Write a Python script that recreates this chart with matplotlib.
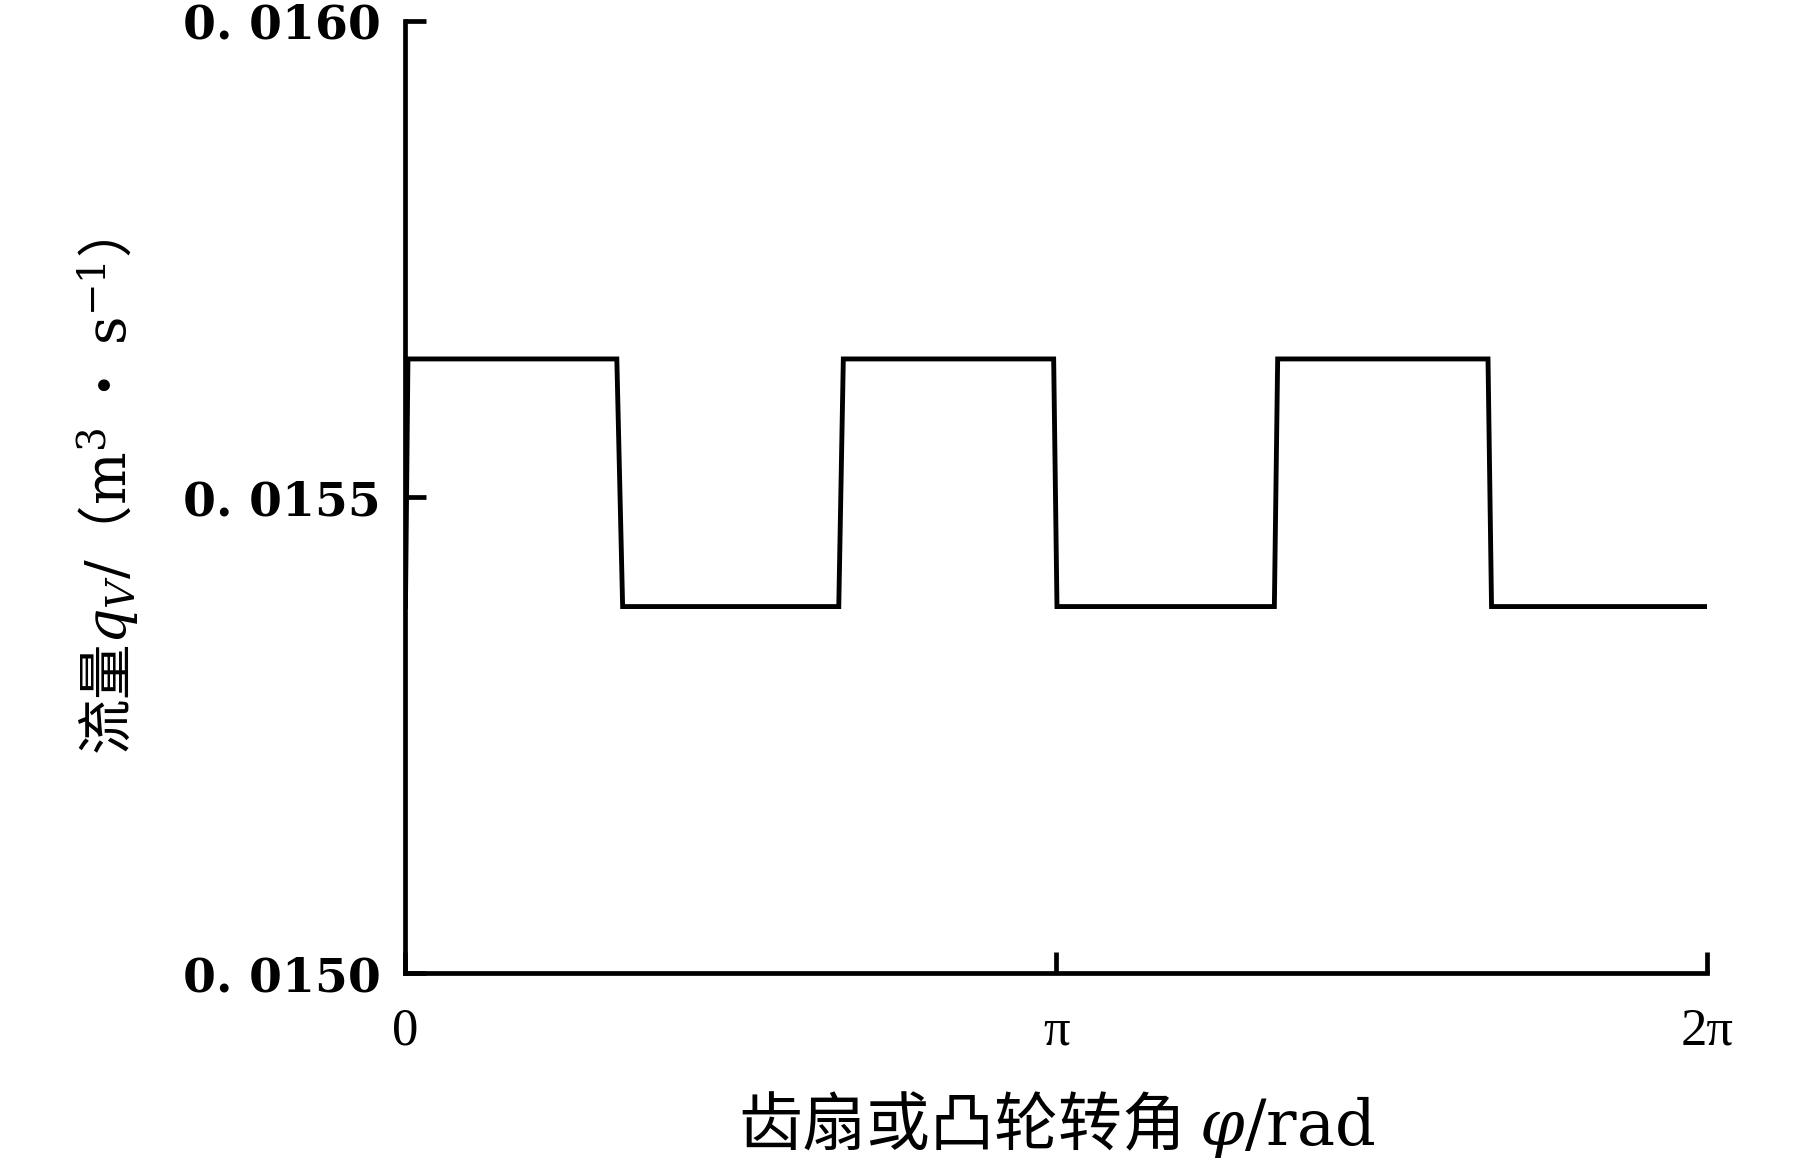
import numpy as np
import matplotlib
matplotlib.use("Agg")
import matplotlib.pyplot as plt

# square-wave flow rate over one revolution
phi = [0.0, 0.012, 1.020, 1.048, 2.091, 2.113, 3.128, 3.144, 4.193, 4.209, 5.224, 5.241, 6.283]
q_v = [0.015385, 0.015645, 0.015645, 0.015385, 0.015385, 0.015645, 0.015645,
       0.015385, 0.015385, 0.015645, 0.015645, 0.015385, 0.015385]

x_ticks = [0.0, np.pi, 2 * np.pi]
x_tick_labels = ["0", "π", "2π"]
y_ticks = [0.0150, 0.0155, 0.0160]
y_tick_labels = ["0. 0150", "0. 0155", "0. 0160"]

plt.rcParams['mathtext.fontset'] = 'custom'
plt.rcParams['mathtext.it'] = 'DejaVu Serif:italic'
plt.rcParams['mathtext.rm'] = 'DejaVu Serif'

fig = plt.figure(figsize=(18.19, 11.59), dpi=100)
ax = fig.add_axes([0.2229, 0.1603, 0.7158, 0.8217])

ax.plot(phi, q_v, color='black', linewidth=3.5, solid_joinstyle='miter')

ax.set_xlim(0, 2 * np.pi)
ax.set_ylim(0.0150, 0.0160)

for side in ['top', 'right']:
    ax.spines[side].set_visible(False)
for side in ['left', 'bottom']:
    ax.spines[side].set_linewidth(3.4)

ax.set_xticks(x_ticks)
ax.set_xticklabels(x_tick_labels, fontfamily='Liberation Serif', fontsize=38)
ax.set_yticks(y_ticks)
ax.set_yticklabels(y_tick_labels, fontfamily='DejaVu Serif', fontsize=34, fontweight='bold')
ax.tick_params(axis='both', direction='in', length=15, width=3.4)
ax.tick_params(axis='x', pad=25)
ax.tick_params(axis='y', pad=18)

ax.set_xlabel("齿扇或凸轮转角 $\\varphi/\\mathrm{rad}$", fontfamily=['Noto Sans CJK SC', 'DejaVu Serif'], fontsize=46)
ax.xaxis.set_label_coords(0.5, -0.122)
ax.set_ylabel("流量$q_V/$（$\\mathrm{m}^3$ · $\\mathrm{s}^{-1}$）",
              fontfamily=['Noto Sans CJK SC', 'DejaVu Serif'], fontsize=40)
ax.yaxis.set_label_coords(-0.203, 0.5)

plt.savefig('out.png', dpi=100)
